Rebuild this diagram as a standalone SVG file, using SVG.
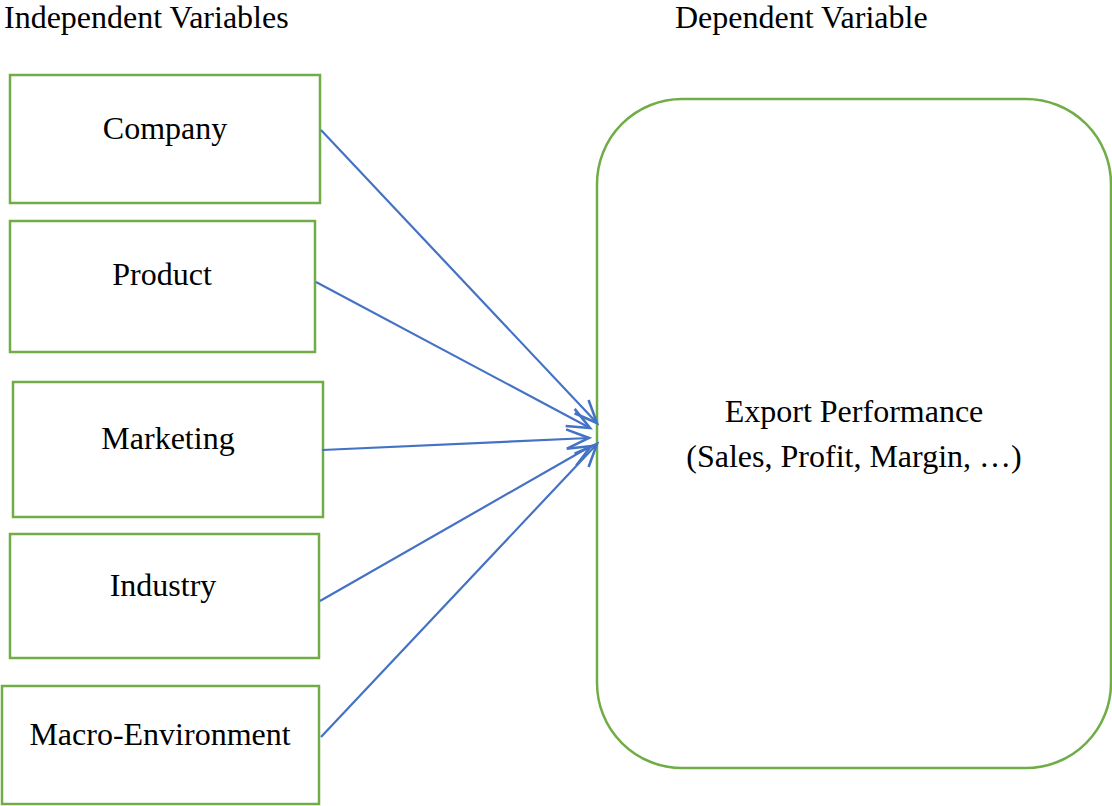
<svg xmlns="http://www.w3.org/2000/svg" width="1112" height="806" viewBox="0 0 1112 806">
  <style>
    .box { fill: #ffffff; stroke: #70AD47; stroke-width: 2.5; }
    .lbl { font-family: "Liberation Serif", "Times New Roman", serif; font-size: 32px; fill: #000000; }
    .mid { text-anchor: middle; }
    .conn { stroke: #4472C4; stroke-width: 2.2; fill: none; }
  </style>
  <defs>
    <marker id="openArrow" markerUnits="userSpaceOnUse" markerWidth="30" markerHeight="30" viewBox="-24 -12 28 24" refX="0" refY="0" orient="auto">
      <path d="M-21,-9 L0,0 L-21,9" fill="none" stroke="#4472C4" stroke-width="2.4"/>
    </marker>
  </defs>

  <rect width="1112" height="806" fill="#ffffff"/>

  <text class="lbl" x="4" y="28">Independent Variables</text>
  <text class="lbl" x="675" y="28">Dependent Variable</text>

  <g id="company">
    <rect class="box" x="10" y="75" width="310" height="128"/>
    <text class="lbl mid" x="165" y="139">Company</text>
  </g>
  <g id="product">
    <rect class="box" x="10" y="221" width="305" height="131"/>
    <text class="lbl mid" x="162" y="285">Product</text>
  </g>
  <g id="marketing">
    <rect class="box" x="13" y="382" width="310" height="135"/>
    <text class="lbl mid" x="168" y="449">Marketing</text>
  </g>
  <g id="industry">
    <rect class="box" x="10" y="534" width="309" height="124"/>
    <text class="lbl mid" x="163" y="596">Industry</text>
  </g>
  <g id="macro-environment">
    <rect class="box" x="2" y="686" width="317" height="118"/>
    <text class="lbl mid" x="160" y="745">Macro-Environment</text>
  </g>
  <g id="export-performance">
    <rect class="box" x="597" y="99" width="514" height="669" rx="85" ry="85"/>
    <text class="lbl mid" x="854" y="422">Export Performance</text>
    <text class="lbl mid" x="854" y="467">(Sales, Profit, Margin, …)</text>
  </g>

  <g id="connectors">
    <line class="conn" x1="321" y1="130" x2="597" y2="423" marker-end="url(#openArrow)"/>
    <line class="conn" x1="316" y1="282" x2="590" y2="428" marker-end="url(#openArrow)"/>
    <line class="conn" x1="322" y1="450" x2="589" y2="438" marker-end="url(#openArrow)"/>
    <line class="conn" x1="320" y1="601" x2="591" y2="446" marker-end="url(#openArrow)"/>
    <line class="conn" x1="321" y1="737" x2="597" y2="444" marker-end="url(#openArrow)"/>
  </g>
</svg>
